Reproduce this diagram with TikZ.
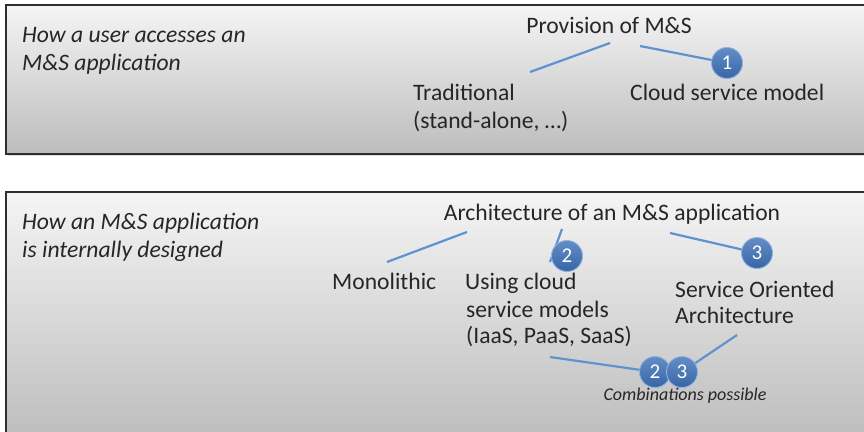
\documentclass[tikz,border=0pt]{standalone}
\usepackage{fontspec}
\setmainfont{Carlito}
\usetikzlibrary{shadows}
\definecolor{linkblue}{HTML}{5E92D0}
\definecolor{badgeblue}{HTML}{3D71B8}
\definecolor{badgering}{HTML}{8FB2DE}
\definecolor{panelline}{HTML}{2E2E2E}
\pgfdeclarelayer{panels}
\pgfdeclarelayer{links}
\pgfsetlayers{panels,links,main}
\tikzset{
  panel/.style={draw=panelline, line width=1.8pt, top color=black!4, bottom color=black!26,
    drop shadow={shadow xshift=1.5pt, shadow yshift=-2pt, opacity=0.25}},
  lbl/.style={inner sep=0pt, anchor=base west, font=\fontsize{23.6}{28}\selectfont, text=black!85},
  ctr/.style={inner sep=0pt, anchor=base, font=\fontsize{23.6}{28}\selectfont, text=black!85},
  qlabel/.style={inner sep=0pt, anchor=base west, font=\fontsize{23.6}{28}\selectfont\itshape, text=black!85},
  small/.style={inner sep=0pt, anchor=base, font=\fontsize{18}{20}\selectfont\itshape, text=black!85},
  badge/.style={circle, minimum size=31pt, inner sep=0pt, top color=badgeblue!80!white,
    bottom color=badgeblue!90!black, draw=badgering,
    line width=0.9pt, text=white, font=\fontsize{21}{22}\selectfont},
  link/.style={draw=linkblue, line width=2.2pt}
}
\begin{document}
\begin{tikzpicture}[x=1pt, y=-1pt]
\useasboundingbox (0,0) rectangle (864,431);
% panels
\begin{pgfonlayer}{panels}
\path[panel] (6,5) rectangle (874,154);
\path[panel] (6,192) rectangle (874,440);
\end{pgfonlayer}

% upper panel: access
\node[qlabel] (q1a) at (22,42) {How a user accesses an};
\node[qlabel] (q1b) at (22,70) {M\&S application};
\node[ctr] (prov) at (609,33) {Provision of M\&S};
\node[lbl] (trad) at (413,100) {Traditional};
\node[lbl] (trad2) at (413,128) {(stand-alone, …)};
\node[lbl] (cloud) at (630,100) {Cloud service model};
\node[badge] (b1) at (727,63) {1};
\coordinate (p1) at (610,43);
\coordinate (t1) at (530,72);
\coordinate (p2) at (640,46);

% lower panel: design
\node[qlabel] (q2a) at (22,229) {How an M\&S application};
\node[qlabel] (q2b) at (22,257) {is internally designed};
\node[ctr] (arch) at (612,220) {Architecture of an M\&S application};
\node[lbl] (mono) at (332,289) {Monolithic};
\node[lbl] (use1) at (465,289) {Using cloud};
\node[lbl] (use2) at (466,317) {service models};
\node[lbl] (use3) at (466,343) {(IaaS, PaaS, SaaS)};
\node[lbl] (soa1) at (675,297) {Service Oriented};
\node[lbl] (soa2) at (675,323) {Architecture};
\node[badge] (b2) at (567,256) {2};
\node[badge] (b3) at (757,253) {3};
\node[badge] (c2) at (655,372) {2};
\node[badge] (c3) at (682,372) {3};
\node[small] (comb) at (685,400) {Combinations possible};
\coordinate (a1) at (467,232);
\coordinate (m1) at (387,262);
\coordinate (a2) at (562,229);
\coordinate (a2e) at (550,262);
\coordinate (a3) at (670,233);
\coordinate (u1) at (550,357);
\coordinate (s1) at (737,335);

% connectors, kept beneath the badges
\begin{pgfonlayer}{links}
\draw[link] (p1) -- (t1);
\draw[link] (p2) -- (b1.center);
\draw[link] (a1) -- (m1);
\draw[link] (a2) -- (a2e);
\draw[link] (a3) -- (b3.center);
\draw[link] (u1) -- (c2.center);
\draw[link] (s1) -- (c3.center);
\end{pgfonlayer}
\end{tikzpicture}
\end{document}
